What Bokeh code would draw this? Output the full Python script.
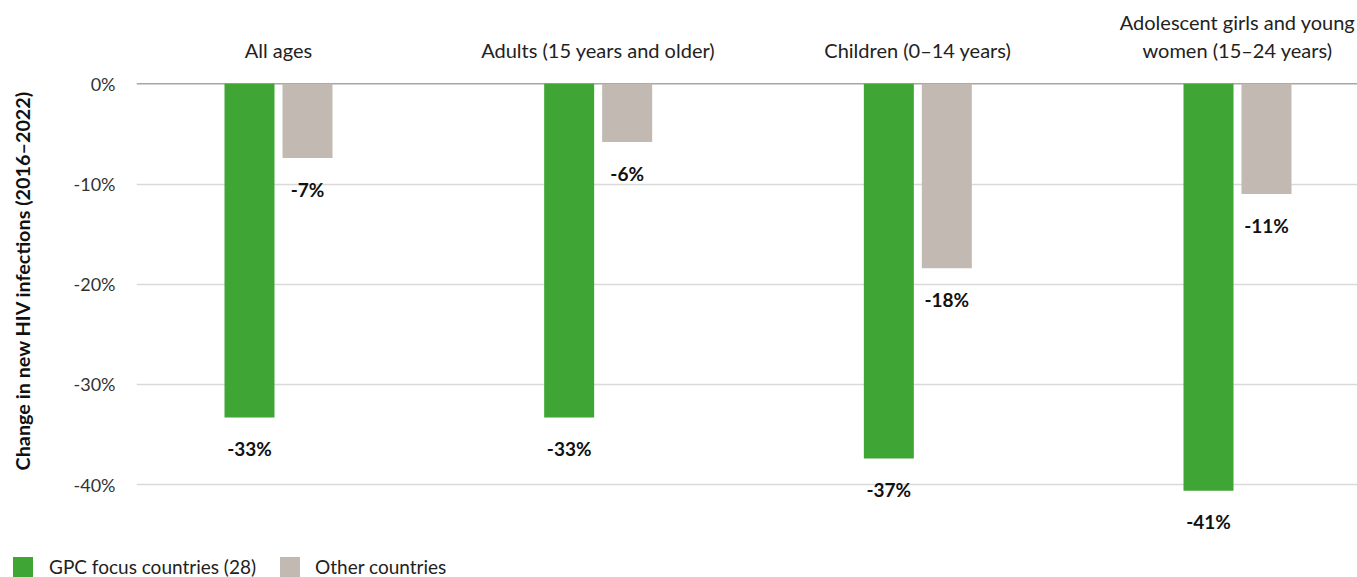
from bokeh.plotting import figure
from bokeh.layouts import column
from bokeh.models import ColumnDataSource, FixedTicker, Span, Div
from bokeh.embed import file_html
from bokeh.resources import INLINE
from bokeh.core.properties import value

# ---- data ----
categories = ["All ages", "Adults (15 years and older)", "Children (0\u201314 years)",
              "Adolescent girls and young\nwomen (15\u201324 years)"]
gpc_values = [-33.3, -33.3, -37.4, -40.6]
other_values = [-7.4, -5.8, -18.4, -11.0]
series_names = ["GPC focus countries (28)", "Other countries"]
y_ticks = [0, -10, -20, -30, -40]
y_tick_labels = ["0%", "-10%", "-20%", "-30%", "-40%"]
y_title = "Change in new HIV infections (2016\u20132022)"

GREEN = "#3FA535"
GREY = "#C1B9B2"
FONT = "Lato"

group_x = list(range(len(categories)))
offset = 0.0907
bar_w = 0.1564
label_gap = 3.1

gpc_src = ColumnDataSource(dict(
    x=[g - offset for g in group_x], top=[0] * len(gpc_values), bottom=gpc_values,
    ly=[v - label_gap for v in gpc_values], lab=[f"{round(v)}%" for v in gpc_values]))
oth_src = ColumnDataSource(dict(
    x=[g + offset for g in group_x], top=[0] * len(other_values), bottom=other_values,
    ly=[v - label_gap for v in other_values], lab=[f"{round(v)}%" for v in other_values]))
cat_src = ColumnDataSource(dict(x=group_x, y=[2.2] * len(categories), text=categories))

p = figure(width=1357, height=548, x_range=(-0.4442, 3.3754), y_range=(-46.37, 7.12),
           output_backend="svg", toolbar_location=None,
           min_border_left=136, min_border_right=0, min_border_top=12, min_border_bottom=0)
p.outline_line_color = None
p.background_fill_color = "white"
p.border_fill_color = "white"
p.xaxis.visible = False
p.xgrid.visible = False

p.ygrid.ticker = FixedTicker(ticks=[t for t in y_ticks if t != 0])
p.ygrid.grid_line_color = "#d9d9d9"
p.ygrid.grid_line_width = 1.3

p.yaxis.ticker = FixedTicker(ticks=y_ticks)
p.yaxis.major_label_overrides = dict(zip(y_ticks, y_tick_labels))
p.yaxis.axis_line_color = None
p.yaxis.major_tick_line_color = None
p.yaxis.minor_tick_line_color = None
p.yaxis.major_tick_out = 0
p.yaxis.major_tick_in = 0
p.yaxis.major_label_standoff = 21
p.yaxis.major_label_text_font = FONT
p.yaxis.major_label_text_font_size = "18px"
p.yaxis.major_label_text_color = "#333333"
p.yaxis.axis_label = y_title
p.yaxis.axis_label_text_font = FONT
p.yaxis.axis_label_text_font_style = "bold"
p.yaxis.axis_label_text_font_size = "19.8px"
p.yaxis.axis_label_text_color = "#111111"
p.yaxis.axis_label_standoff = 37

zero = Span(location=0, dimension="width", line_color="#a6a6a6", line_width=1.5, level="underlay")
p.add_layout(zero)

p.vbar(x="x", top="top", bottom="bottom", width=bar_w, source=gpc_src,
       fill_color=GREEN, line_color=None)
p.vbar(x="x", top="top", bottom="bottom", width=bar_w, source=oth_src,
       fill_color=GREY, line_color=None)

for src in (gpc_src, oth_src):
    p.text(x="x", y="ly", text="lab", source=src, text_align="center", text_baseline="middle",
           text_font=value(FONT), text_font_style="bold", text_font_size="19px",
           text_color="#111111")

p.text(x="x", y="y", text="text", source=cat_src, text_align="center", text_baseline="bottom",
       text_font=value(FONT), text_font_size="20px", text_color="#222222", text_line_height=1.15)

# ---- legend strip (HTML, below the plot) ----
def swatch(color, left):
    return (f'<span style="display:inline-block;width:20px;height:20px;background:{color};'
            f'margin-left:{left}px;flex:none"></span>')

def label(text, left):
    return (f'<span style="margin-left:{left}px;line-height:20px;white-space:nowrap">{text}</span>')

legend_html = (
    f'<div style="display:flex;align-items:center;padding-top:9px;font-family:{FONT};'
    f'font-size:19px;color:#222222">'
    + swatch(GREEN, 13) + label(series_names[0], 16)
    + swatch(GREY, 24) + label(series_names[1], 15)
    + '</div>'
)
legend_div = Div(text=legend_html, width=1357, height=29, margin=(0, 0, 0, 0))

layout = column(p, legend_div, spacing=0)
open("out.html", "w").write(file_html(layout, INLINE))
